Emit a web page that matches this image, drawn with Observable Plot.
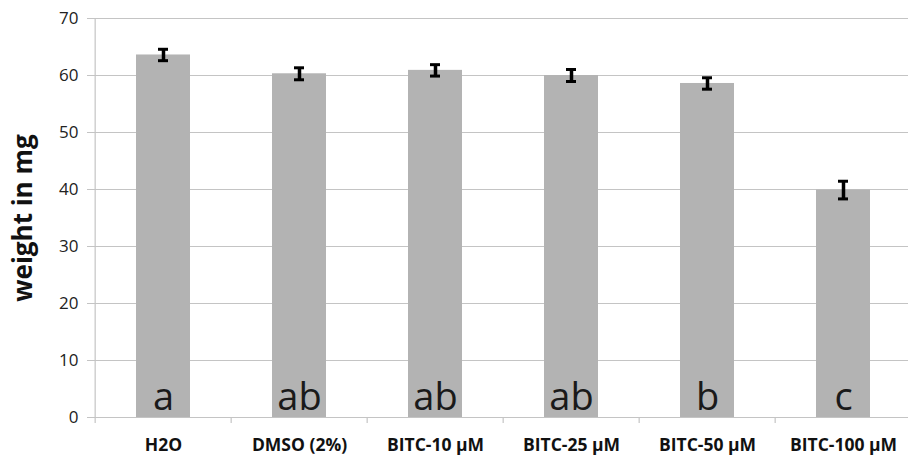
<!DOCTYPE html>
<html>
<head>
<meta charset="utf-8">
<script src="https://cdn.jsdelivr.net/npm/d3@7"></script>
<script src="https://cdn.jsdelivr.net/npm/@observablehq/plot@0.6"></script>
<style>
  html, body { margin: 0; padding: 0; background: #fff; }
  #chart svg { display: block; }
</style>
</head>
<body>
<div id="chart"></div>
<script>
const categories = ["H2O", "DMSO (2%)", "BITC-10 μM", "BITC-25 μM", "BITC-50 μM", "BITC-100 μM"];
const means = [63.6, 60.3, 60.9, 60.0, 58.6, 39.9];
const errors = [1.0, 1.05, 1.0, 1.05, 1.0, 1.55];
const letters = ["a", "ab", "ab", "ab", "b", "c"];
const yTicks = [0, 10, 20, 30, 40, 50, 60, 70];

const data = categories.map((c, i) => ({cat: c, mean: means[i], err: errors[i], letter: letters[i]}));

const W = 908, H = 456;
const xRange = [93, 913];
const step = (xRange[1] - xRange[0]) / categories.length;
const gridColor = "#c4c4c4";

const chart = Plot.plot({
  width: W,
  height: H,
  marginLeft: 93,
  marginRight: 0,
  marginTop: 18,
  marginBottom: 39,
  style: {fontFamily: "'Open Sans', sans-serif", background: "#fff"},
  x: {domain: categories, range: xRange, paddingInner: 0.6, paddingOuter: 0.3, align: 0.5},
  y: {domain: [0, 70]},
  marks: [
    Plot.gridY(yTicks.filter(d => d > 0), {stroke: gridColor, strokeOpacity: 1, strokeWidth: 1.2}),
    Plot.axisY({
      ticks: yTicks, tickSize: 6, tickPadding: 9, stroke: gridColor, strokeOpacity: 1,
      fontSize: 17, fill: "#222",
      label: "weight in mg", labelAnchor: "center", labelArrow: "none", labelOffset: 80
    }),
    Plot.axisX({tickSize: 0, tickPadding: 21, fontSize: 17.5, fontWeight: "bold", fill: "#111", label: null}),
    Plot.barY(data, {x: "cat", y1: 0, y2: "mean", fill: "#b3b3b3"}),
    Plot.ruleY([0], {stroke: gridColor, strokeWidth: 1.2}),
    Plot.ruleX(data, {x: "cat", dx: -step / 2, y1: 0, y2: -1.05, stroke: gridColor, strokeWidth: 1.2}),
    Plot.ruleX(data.slice(0, 1), {x: "cat", dx: -step / 2, y1: 0, y2: 70, stroke: gridColor, strokeWidth: 1.2}),
    Plot.ruleX(data, {x: "cat", y1: d => d.mean - d.err, y2: d => d.mean + d.err, stroke: "#000", strokeWidth: 3.5}),
    Plot.tickY(data, {x: "cat", y: d => d.mean - d.err, stroke: "#000", strokeWidth: 3, insetLeft: 22, insetRight: 22}),
    Plot.tickY(data, {x: "cat", y: d => d.mean + d.err, stroke: "#000", strokeWidth: 3, insetLeft: 22, insetRight: 22}),
    Plot.text(data, {x: "cat", y: 0, text: "letter", fontSize: 38, fill: "#1a1a1a", lineAnchor: "bottom", dy: -8})
  ]
});

// style the y-axis title
const svg = d3.select(chart);
svg.selectAll("[aria-label='y-axis label'] text").attr("font-size", 26).attr("font-weight", "bold").attr("fill", "#111");
document.getElementById("chart").appendChild(chart);
</script>
</body>
</html>
